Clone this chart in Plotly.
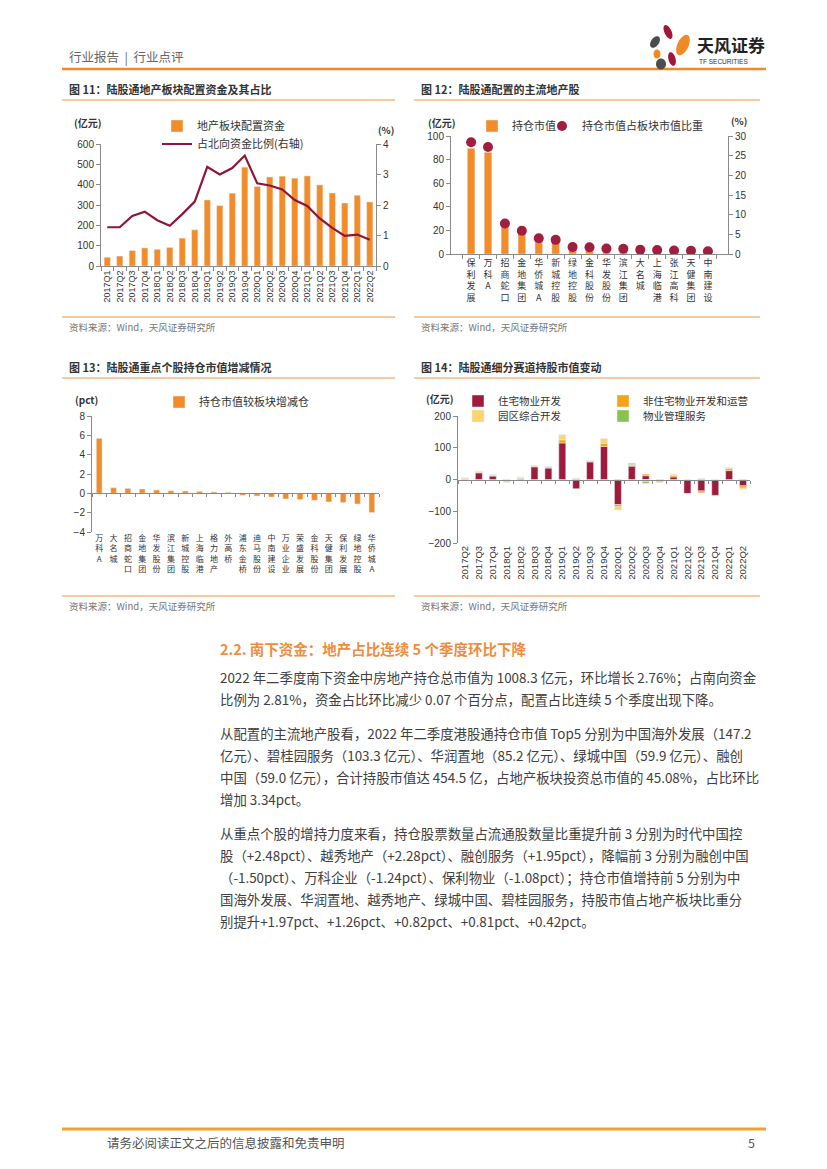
import numpy as np
import plotly.graph_objects as go

# The page body has an 8px default margin: size the figure to fit inside it and
# express every position in reference-page pixels.
OFF = 8
PAGE_W, PAGE_H = 827, 1169
W, H = PAGE_W - 2 * OFF, PAGE_H - 2 * OFF
def X(p): return (p - OFF) / W
def Y(p): return 1 - (p - OFF) / H

CJK = "Noto Sans CJK SC"
NUM = "Liberation Sans, Noto Sans CJK SC"
AX = "#8a8a8a"
TXT = "#333333"
ORANGE = "#F28C28"
MAROON = "#8E1538"

# ---------------- data ----------------
# Fig 11
quarters_11 = ["2017Q1", "2017Q2", "2017Q3", "2017Q4", "2018Q1", "2018Q2", "2018Q3", "2018Q4",
               "2019Q1", "2019Q2", "2019Q3", "2019Q4", "2020Q1", "2020Q2", "2020Q3", "2020Q4",
               "2021Q1", "2021Q2", "2021Q3", "2021Q4", "2022Q1", "2022Q2"]
alloc_11 = [43, 49, 76, 89, 82, 91, 137, 178, 325, 297, 358, 486, 391, 438, 442, 432,
            443, 399, 359, 310, 348, 315]
share_11 = [1.27, 1.27, 1.64, 1.78, 1.50, 1.32, 1.70, 2.11, 3.25, 3.00, 3.21, 3.62, 2.71, 2.64,
            2.51, 2.16, 1.97, 1.56, 1.25, 0.99, 1.03, 0.86]

# Fig 12
stocks_12 = ["保利发展", "万科A", "招商蛇口", "金地集团", "华侨城A", "新城控股", "绿地控股", "金科股份",
             "华发股份", "滨江集团", "大名城", "上海临港", "张江高科", "天健集团", "中南建设"]
value_12 = [89.6, 86.2, 24.5, 18.6, 12.6, 11.4, 5.7, 5.4, 4.4, 4.3, 3.5, 3.2, 2.8, 2.5, 2.2]
weight_12 = [28.4, 27.2, 7.75, 5.9, 4.0, 3.6, 1.8, 1.7, 1.4, 1.35, 1.1, 1.0, 0.9, 0.8, 0.7]

# Fig 13
stocks_13 = ["万科A", "大名城", "招商蛇口", "金地集团", "华发股份", "滨江集团", "新城控股", "上海临港",
             "格力地产", "外高桥", "浦东金桥", "迪马股份", "中南建设", "万业企业", "荣盛发展", "金科股份",
             "天健集团", "保利发展", "绿地控股", "华侨城A"]
change_13 = [5.69, 0.58, 0.51, 0.45, 0.34, 0.27, 0.24, 0.20, 0.14, 0.10, -0.20, -0.27, -0.38,
             -0.58, -0.65, -0.72, -0.89, -0.96, -1.10, -1.99]

# Fig 14
quarters_14 = ["2017Q2", "2017Q3", "2017Q4", "2018Q1", "2018Q2", "2018Q3", "2018Q4", "2019Q1",
               "2019Q2", "2019Q3", "2019Q4", "2020Q1", "2020Q2", "2020Q3", "2020Q4", "2021Q1",
               "2021Q2", "2021Q3", "2021Q4", "2022Q1", "2022Q2"]
residential_14 = [1, 21, 11, -4, 2, 40, 36, 115, -29, 56, 104, -79, 42, 12, -6, 8, -44, -36, -50, 28, -20]
nonresidential_14 = [1, 2, 1, 0, 2, 3, 3, 10, 2, 0, 10, -7, -3, 5, -3, 5, 0, -6, 0, 6, -7]
park_14 = [3, 3, 3, -5, 3, 0, 2, 16, 2, 4, 15, -10, 5, -6, 0, 4, -2, 3, 0, 4, -4]
property_mgmt_14 = [0, 0, 0, 0, 0, 0, 0, 0, 0, 0, 0, 0, 4, -6, 0, 0, 0, 0, 0, 0, 0]
series_14 = [("住宅物业开发", residential_14, "#9E1B3C", "legend6"),
             ("非住宅物业开发和运营", nonresidential_14, "#F2A516", "legend7"),
             ("园区综合开发", park_14, "#FFD36E", "legend8"),
             ("物业管理服务", property_mgmt_14, "#8CC152", "legend9")]


def vertical(s):
    return "<br>".join(list(s))


fig = go.Figure()

# ---------------- Fig 11 ----------------
fig.add_trace(go.Bar(x=quarters_11, y=alloc_11, name="地产板块配置资金", marker_color=ORANGE,
                     width=0.5, xaxis="x", yaxis="y", legend="legend"))
fig.add_trace(go.Scatter(x=quarters_11, y=share_11, name="占北向资金比例(右轴)", mode="lines",
                         line=dict(color=MAROON, width=2.2), xaxis="x", yaxis="y2", legend="legend2"))

# ---------------- Fig 12 ----------------
fig.add_trace(go.Bar(x=stocks_12, y=value_12, name="持仓市值", marker_color=ORANGE, width=0.45,
                     xaxis="x2", yaxis="y3", legend="legend3"))
fig.add_trace(go.Scatter(x=stocks_12, y=weight_12, name="持仓市值占板块市值比重", mode="markers",
                         marker=dict(color="#A01E40", size=10), xaxis="x2", yaxis="y4", legend="legend4"))

# ---------------- Fig 13 ----------------
fig.add_trace(go.Bar(x=stocks_13, y=change_13, name="持仓市值较板块增减仓", marker_color=ORANGE,
                     width=0.4, xaxis="x3", yaxis="y5", legend="legend5"))
fig.add_trace(go.Scatter(x=np.arange(len(stocks_13)), y=np.zeros(len(stocks_13)), mode="markers",
                         marker=dict(opacity=0), hoverinfo="skip", showlegend=False,
                         xaxis="x5", yaxis="y5"))

# ---------------- Fig 14 ----------------
for name, vals, col, lg in series_14:
    fig.add_trace(go.Bar(x=quarters_14, y=vals, name=name, marker_color=col, width=0.5,
                         xaxis="x4", yaxis="y6", legend=lg))
fig.add_trace(go.Scatter(x=np.arange(len(quarters_14)), y=np.zeros(len(quarters_14)), mode="markers",
                         marker=dict(opacity=0), hoverinfo="skip", showlegend=False,
                         xaxis="x6", yaxis="y6"))

# ---------------- axes ----------------
numfont = dict(family=NUM, size=10, color=TXT)
base = dict(showgrid=False, zeroline=False, automargin=False, linecolor=AX, tickcolor=AX,
            linewidth=1, ticklen=4)

def yax(domain, rng, dtick, anchor, **kw):
    d = dict(base, domain=domain, range=rng, dtick=dtick, anchor=anchor, ticks="outside",
             showline=True, tickfont=numfont)
    d.update(kw)
    return d

d11 = [Y(266), Y(144)]
d12 = [Y(254), Y(136)]
d13 = [Y(532), Y(416)]
d14 = [Y(543), Y(416)]
zero13 = d13[0] + (d13[1] - d13[0]) * 4 / 12
zero14 = d14[0] + (d14[1] - d14[0]) * 0.5

layout = dict(
    width=W, height=H, margin=dict(l=0, r=0, t=0, b=0),
    paper_bgcolor="white", plot_bgcolor="rgba(0,0,0,0)",
    barmode="relative", font=dict(family=CJK, color=TXT),
    xaxis=dict(base, domain=[X(101), X(376)], anchor="y", type="category", tickson="boundaries",
               ticks="outside", showline=True, tickangle=-90,
               tickfont=dict(family=NUM, size=9, color=TXT)),
    yaxis=yax(d11, [0, 600], 100, "x"),
    yaxis2=yax(d11, [0, 4], 1, "x", overlaying="y", side="right"),
    xaxis2=dict(base, domain=[X(451), X(728)], anchor="y3", type="category", tickson="boundaries",
                ticks="outside", showline=True, tickangle=0,
                tickvals=stocks_12, ticktext=[vertical(s) for s in stocks_12],
                tickfont=dict(family=CJK, size=9, color=TXT)),
    yaxis3=yax(d12, [0, 100], 20, "x2"),
    yaxis4=yax(d12, [0, 30], 5, "x2", overlaying="y3", side="right"),
    xaxis3=dict(base, domain=[X(92), X(379)], anchor="y5", type="category", ticks="",
                showline=False, tickangle=0, tickvals=stocks_13,
                ticktext=[vertical(s) for s in stocks_13],
                tickfont=dict(family=CJK, size=8, color=TXT)),
    yaxis5=yax(d13, [-4, 8], 2, "x3"),
    xaxis5=dict(base, overlaying="x3", anchor="free", position=zero13, type="linear",
                range=[-0.5, len(stocks_13) - 0.5], tickvals=np.arange(len(stocks_13) + 1) - 0.5,
                ticks="outside", ticklen=3, showline=True, showticklabels=False),
    xaxis4=dict(base, domain=[X(458), X(750)], anchor="y6", type="category", ticks="",
                showline=False, tickangle=-90, tickfont=dict(family=NUM, size=9.5, color=TXT)),
    yaxis6=yax(d14, [-200, 200], 100, "x4"),
    xaxis6=dict(base, overlaying="x4", anchor="free", position=zero14, type="linear",
                range=[-0.5, len(quarters_14) - 0.5], tickvals=np.arange(len(quarters_14) + 1) - 0.5,
                ticks="outside", ticklen=3, showline=True, showticklabels=False),
)

def leg(sx, yc, size=11):
    return dict(x=X(sx - 20), y=Y(yc), xanchor="left", yanchor="middle", bgcolor="rgba(0,0,0,0)",
                font=dict(family=CJK, size=size, color=TXT), itemwidth=30, borderwidth=0,
                orientation="v", tracegroupgap=0)

layout["legend"] = leg(177, 126)
layout["legend2"] = leg(177, 144)
layout["legend3"] = leg(492, 126)
layout["legend4"] = leg(562, 126)
layout["legend5"] = leg(179, 402)
layout["legend6"] = leg(478, 401, 10.5)
layout["legend7"] = leg(623, 401, 10.5)
layout["legend8"] = leg(478, 416, 10.5)
layout["legend9"] = leg(623, 416, 10.5)
fig.update_layout(**layout)

# ---------------- page furniture ----------------
shapes = []
def hline(x0, x1, y, color, width):
    shapes.append(dict(type="line", xref="paper", yref="paper", x0=X(x0), x1=X(x1), y0=Y(y), y1=Y(y),
                       line=dict(color=color, width=width)))

hline(62, 766, 69, "#F08A24", 2.5)
for yy in (100, 317, 378, 596):
    hline(62, 395, yy, "#F4B784", 1.5)
    hline(414, 760, yy, "#F4B784", 1.5)
hline(62, 766, 1129, "#F0A030", 3)

# logo petals (rotated ellipses)
def petal(cx, cy, rx, ry, ang, color):
    t = np.linspace(0, 2 * np.pi, 40)
    a = np.deg2rad(ang)
    xs = cx + rx * np.cos(t) * np.cos(a) - ry * np.sin(t) * np.sin(a)
    ys = cy + rx * np.cos(t) * np.sin(a) + ry * np.sin(t) * np.cos(a)
    path = "M " + " L ".join(f"{X(x):.5f},{Y(y):.5f}" for x, y in zip(xs, ys)) + " Z"
    shapes.append(dict(type="path", xref="paper", yref="paper", path=path, fillcolor=color,
                       line=dict(width=0)))

petal(668, 32, 3.5, 7.5, -25, "#A3163C")
petal(655, 42, 4, 6.5, 35, "#4D4D4D")
petal(683, 45, 5.5, 11, 25, "#F08A24")
petal(657, 54, 3.5, 4.5, 0, "#F08A24")
petal(672, 59, 3.5, 7, -15, "#A3163C")
petal(661, 64, 5, 5.5, 0, "#4D4D4D")

annotations = []
def txt(x, y, s, size=10, color=TXT, bold=False, family=CJK, anchor="left"):
    if bold:
        s = f"<b>{s}</b>"
    annotations.append(dict(x=X(x), y=Y(y), xref="paper", yref="paper", text=s, showarrow=False,
                            xanchor=anchor, yanchor="middle",
                            font=dict(family=family, size=size, color=color)))

txt(67, 57, "行业报告  |  行业点评", 12.5, "#666666")
txt(695, 45, "天风证券", 17, "#222222", bold=True)
txt(697, 61, "TF SECURITIES", 6.5, "#333333", family=NUM)

txt(67, 89, "图 11：陆股通地产板块配置资金及其占比", 11, "#333333", bold=True)
txt(419, 89, "图 12：陆股通配置的主流地产股", 11, "#333333", bold=True)
txt(67, 367, "图 13：陆股通重点个股持仓市值增减情况", 11, "#333333", bold=True)
txt(419, 367, "图 14：陆股通细分赛道持股市值变动", 11, "#333333", bold=True)
for xx, yy in ((67, 327), (419, 327), (67, 606), (419, 606)):
    txt(xx, yy, "资料来源：Wind，天风证券研究所", 9.5, "#777777")

txt(88, 122, "(亿元)", 10, TXT, bold=True, anchor="center")
txt(386, 130, "(%)", 9.5, TXT, bold=True, anchor="center")
txt(442, 122, "(亿元)", 10, TXT, bold=True, anchor="center")
txt(739, 121, "(%)", 9.5, TXT, bold=True, anchor="center")
txt(86, 400, "(pct)", 10, TXT, bold=True, anchor="center")
txt(440, 399, "(亿元)", 10, TXT, bold=True, anchor="center")

txt(218, 648, "2.2. 南下资金：地产占比连续 5 个季度环比下降", 14.5, "#F08C3C", bold=True)

paragraph_lines = [
    (677, "2022 年二季度南下资金中房地产持仓总市值为 1008.3 亿元，环比增长 2.76%；占南向资金"),
    (699, "比例为 2.81%，资金占比环比减少 0.07 个百分点，配置占比连续 5 个季度出现下降。"),
    (733, "从配置的主流地产股看，2022 年二季度港股通持仓市值 Top5 分别为中国海外发展（147.2"),
    (755, "亿元）、碧桂园服务（103.3 亿元）、华润置地（85.2 亿元）、绿城中国（59.9 亿元）、融创"),
    (777, "中国（59.0 亿元），合计持股市值达 454.5 亿，占地产板块投资总市值的 45.08%，占比环比"),
    (799, "增加 3.34pct。"),
    (833, "从重点个股的增持力度来看，持仓股票数量占流通股数量比重提升前 3 分别为时代中国控"),
    (855, "股（+2.48pct）、越秀地产（+2.28pct）、融创服务（+1.95pct），降幅前 3 分别为融创中国"),
    (877, "（-1.50pct）、万科企业（-1.24pct）、保利物业（-1.08pct）；持仓市值增持前 5 分别为中"),
    (899, "国海外发展、华润置地、越秀地产、绿城中国、碧桂园服务，持股市值占地产板块比重分"),
    (921, "别提升+1.97pct、+1.26pct、+0.82pct、+0.81pct、+0.42pct。"),
]
for yy, s in paragraph_lines:
    txt(218, yy, s, 13.4, "#404040")

txt(105, 1142, "请务必阅读正文之后的信息披露和免责申明", 12.5, "#555555")
txt(757, 1142, "5", 12.5, "#555555", anchor="right")

fig.update_layout(shapes=shapes, annotations=annotations)
fig.write_html("out.html")
